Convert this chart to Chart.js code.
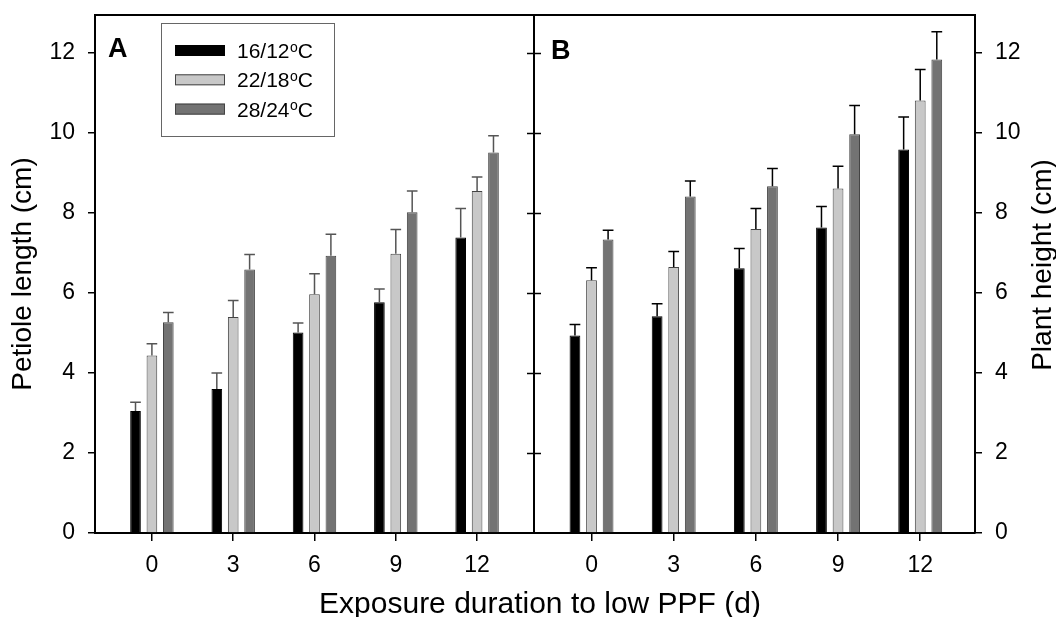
<!DOCTYPE html>
<html>
<head>
<meta charset="utf-8">
<script src="https://cdn.jsdelivr.net/npm/chart.js@4.4.1/dist/chart.umd.min.js"></script>
<style>
  body { margin: 0; background: #fff; }
  #wrap { position: relative; width: 1056px; height: 617px; }
  canvas { position: absolute; left: 0; top: 0; }
</style>
</head>
<body>
<div id="wrap">
  <canvas id="chartA" width="1056" height="617"></canvas>
  <canvas id="chartB" width="1056" height="617"></canvas>
</div>
<script>
const days = [0, 3, 6, 9, 12];
const seriesNames = ['16/12', '22/18', '28/24'];
const yTicks = [0, 2, 4, 6, 8, 10, 12];

// panel A - petiole length (cm)
const petiole16 = [3.05, 3.60, 5.01, 5.77, 7.39];
const petiole22 = [4.44, 5.40, 5.97, 6.98, 8.55];
const petiole28 = [5.27, 6.59, 6.93, 8.02, 9.51];
const petioleErr16 = [0.22, 0.40, 0.24, 0.33, 0.72];
const petioleErr22 = [0.29, 0.41, 0.51, 0.61, 0.35];
const petioleErr28 = [0.24, 0.37, 0.54, 0.53, 0.42];

// panel B - plant height (cm)
const height16 = [4.94, 5.42, 6.62, 7.64, 9.59];
const height22 = [6.32, 6.65, 7.60, 8.61, 10.81];
const height28 = [7.34, 8.41, 8.67, 9.97, 11.84];
const heightErr16 = [0.27, 0.31, 0.49, 0.52, 0.81];
const heightErr22 = [0.31, 0.39, 0.51, 0.56, 0.78];
const heightErr28 = [0.23, 0.39, 0.44, 0.72, 0.69];

const fam = "'Liberation Sans', Arial, sans-serif";
const fills = ['#000000', '#c8c8c8', '#737373'];
Chart.defaults.font.family = fam;
Chart.defaults.color = '#000';

function makeSets(vals, errs) {
    return vals.map((v, i) => ({
        label: seriesNames[i] + '°C',
        data: days.map((d, j) => ({ x: d, y: v[j] })),
        err: errs[i],
        backgroundColor: fills[i],
        borderColor: i === 0 ? '#000' : '#444',
        borderWidth: 1,
        categoryPercentage: 0.605,
        barPercentage: 0.65
    }));
}

// upper whiskers only
const errorBars = {
    id: 'errorBars',
    afterDatasetsDraw(chart, args, opts) {
        const ctx = chart.ctx;
        const y = chart.scales.y;
        ctx.save();
        ctx.strokeStyle = opts.color;
        ctx.lineWidth = 1.5;
        chart.data.datasets.forEach((ds, i) => {
            chart.getDatasetMeta(i).data.forEach((bar, j) => {
                const top = y.getPixelForValue(ds.data[j].y + ds.err[j]);
                const half = bar.width / 2;
                ctx.beginPath();
                ctx.moveTo(bar.x, bar.y);
                ctx.lineTo(bar.x, top);
                ctx.moveTo(bar.x - half, top);
                ctx.lineTo(bar.x + half, top);
                ctx.stroke();
            });
        });
        ctx.restore();
    }
};

function degreeText(ctx, text, x, y, size) {
    ctx.font = size + 'px ' + fam;
    ctx.fillText(text, x, y);
    const w = ctx.measureText(text).width;
    ctx.font = '14px ' + fam;
    ctx.fillText('o', x + w + 0.5, y - 6.5);
    const w2 = ctx.measureText('o').width;
    ctx.font = size + 'px ' + fam;
    ctx.fillText('C', x + w + w2 + 0.5, y);
}

const panelA = {
    id: 'panelA',
    afterDraw(chart) {
        const ctx = chart.ctx;
        const a = chart.chartArea;
        const y = chart.scales.y;
        ctx.save();
        ctx.strokeStyle = '#000';
        ctx.lineWidth = 2;
        ctx.beginPath();
        ctx.moveTo(a.left - 1, a.top);
        ctx.lineTo(975, a.top);
        ctx.moveTo(534, a.top);
        ctx.lineTo(534, a.bottom);
        ctx.stroke();
        ctx.lineWidth = 1.5;
        yTicks.slice(1).forEach(v => {
            const py = Math.round(y.getPixelForValue(v)) + 0.5;
            ctx.beginPath();
            ctx.moveTo(527, py);
            ctx.lineTo(541, py);
            ctx.stroke();
        });

        ctx.fillStyle = '#000';
        ctx.font = 'bold 27px ' + fam;
        ctx.textBaseline = 'alphabetic';
        ctx.fillText('A', 108, 57);

        // legend
        ctx.strokeStyle = '#666';
        ctx.lineWidth = 1;
        ctx.strokeRect(161.5, 23.5, 173, 113);
        seriesNames.forEach((name, i) => {
            const top = 45 + i * 29.3;
            ctx.fillStyle = fills[i];
            ctx.fillRect(175, top, 50, 11);
            ctx.strokeStyle = i === 0 ? '#000' : '#444';
            ctx.strokeRect(175.5, top + 0.5, 49, 10);
            ctx.fillStyle = '#000';
            degreeText(ctx, name, 237, top + 13, 21);
        });

        ctx.font = '30px ' + fam;
        ctx.textAlign = 'center';
        ctx.fillText('Exposure duration to low PPF (d)', 540, 613);
        ctx.restore();
    }
};

const panelB = {
    id: 'panelB',
    afterDraw(chart) {
        const ctx = chart.ctx;
        ctx.save();
        ctx.fillStyle = '#000';
        ctx.font = 'bold 27px ' + fam;
        ctx.fillText('B', 551, 59);
        ctx.translate(1043, 265);
        ctx.rotate(-Math.PI / 2);
        ctx.font = '28px ' + fam;
        ctx.textAlign = 'center';
        ctx.textBaseline = 'middle';
        ctx.fillText('Plant height (cm)', 0, 0);
        ctx.restore();
    }
};

function axisX(maxX) {
    return {
        type: 'linear', min: -2.1, max: maxX, offset: false,
        afterBuildTicks: s => { s.ticks = days.map(v => ({ value: v })); },
        afterFit: s => { s.height = 84; s.paddingLeft = 0; s.paddingRight = 0; },
        grid: { offset: false, drawOnChartArea: false, drawTicks: true, tickLength: 8, color: '#000', lineWidth: 1.5 },
        border: { color: '#000', width: 2 },
        ticks: { font: { size: 23 }, color: '#000', padding: 11, maxRotation: 0, autoSkip: false }
    };
}

function axisY(pos, width) {
    return {
        position: pos, min: 0, max: 12.95,
        afterBuildTicks: s => { s.ticks = yTicks.map(v => ({ value: v })); },
        afterFit: s => { s.width = width; s.paddingTop = 0; s.paddingBottom = 0; },
        grid: { drawOnChartArea: false, drawTicks: true, tickLength: 7, color: '#000', lineWidth: 1.5 },
        border: { color: '#000', width: 2 },
        ticks: { font: { size: 23 }, color: '#000', padding: 13 }
    };
}

const yA = axisY('left', 95);
yA.title = { display: true, text: 'Petiole length (cm)', font: { size: 28 }, color: '#000', padding: { top: 6, bottom: 0 } };

new Chart(document.getElementById('chartA'), {
    type: 'bar',
    data: { datasets: makeSets([petiole16, petiole22, petiole28], [petioleErr16, petioleErr22, petioleErr28]) },
    options: {
        responsive: false,
        animation: false,
        layout: { padding: { top: 15, right: 522, left: 0, bottom: 0 } },
        plugins: { legend: { display: false }, tooltip: { enabled: false }, errorBars: { color: '#555' } },
        scales: { x: axisX(14.1), y: yA }
    },
    plugins: [errorBars, panelA]
});

new Chart(document.getElementById('chartB'), {
    type: 'bar',
    data: { datasets: makeSets([height16, height22, height28], [heightErr16, heightErr22, heightErr28]) },
    options: {
        responsive: false,
        animation: false,
        layout: { padding: { top: 15, right: 0, left: 534, bottom: 0 } },
        plugins: { legend: { display: false }, tooltip: { enabled: false }, errorBars: { color: '#000' } },
        scales: { x: axisX(14.0), y: axisY('right', 81) }
    },
    plugins: [errorBars, panelB]
});
</script>
</body>
</html>
